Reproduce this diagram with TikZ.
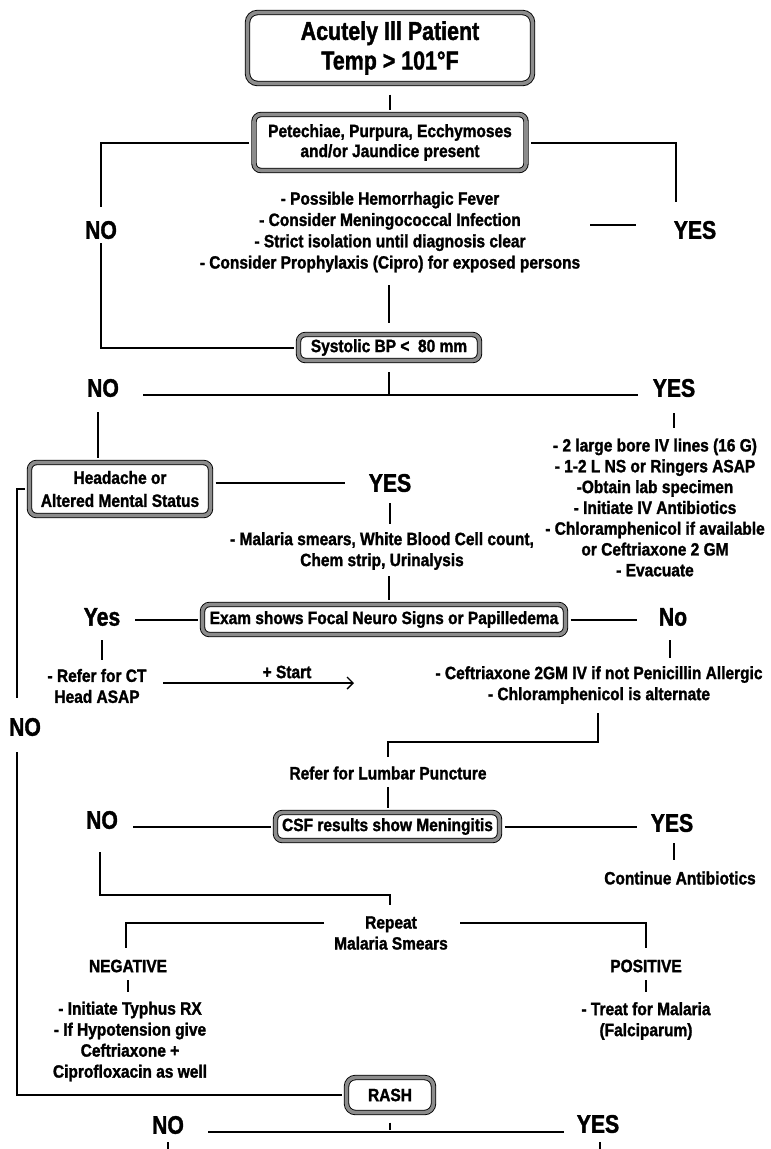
\documentclass[tikz,border=0pt]{standalone}
\usepackage{fontspec}
\setmainfont{Liberation Sans}
\newfontfamily\bodyf[FakeStretch=0.87, FakeBold=1.5]{Liberation Sans}
\newfontfamily\bigf[FakeStretch=0.83, FakeBold=1.5]{Liberation Sans}
\usetikzlibrary{arrows.meta}
\tikzset{
  conn/.style={line width=2pt, draw=black},
  body/.style={font=\bodyf\bfseries\fontsize{17.8}{21}\selectfont, align=center, inner sep=0pt},
  lbl/.style={font=\bigf\bfseries\fontsize{25.5}{25.5}\selectfont, inner sep=0pt},
  box/.style={draw=black, line width=0.9pt, double=black!45, double distance=3.6pt,
    rounded corners=7pt, fill=white, inner sep=0pt, outer sep=5pt, align=center,
    font=\bodyf\bfseries\fontsize{17.8}{21}\selectfont},
}
\begin{document}
\begin{tikzpicture}[x=1pt,y=-1pt]
\fill[white] (0,0) rectangle (771,1149);
\useasboundingbox (0,0) rectangle (771,1149);

% boxes
\node[box, rounded corners=10pt, minimum width=285pt, minimum height=71pt,
  font=\bigf\bfseries\fontsize{25.8}{29.5}\selectfont] (b1) at (390,48) {Acutely Ill Patient\\Temp > 101°F};
\node[box, minimum width=272pt, minimum height=56pt,
  font=\bodyf\bfseries\fontsize{17.8}{20}\selectfont] (b2) at (390,142.5) {Petechiae, Purpura, Ecchymoses\\and/or Jaundice present};
\node[box, minimum width=181pt, minimum height=26pt] (b3) at (389,347.5) {Systolic BP <\ \ 80 mm};
\node[box, minimum width=181pt, minimum height=53pt,
  font=\bodyf\bfseries\fontsize{17.8}{23}\selectfont] (b4) at (120,489) {Headache or\\Altered Mental Status};
\node[box, minimum width=363pt, minimum height=30pt] (b5) at (384,619.5) {Exam shows Focal Neuro Signs or Papilledema};
\node[box, minimum width=224pt, minimum height=28pt] (b6) at (387.5,826.5) {CSF results show Meningitis};
\node[box, rounded corners=9pt, minimum width=87pt, minimum height=35pt] (b7) at (390,1095) {RASH};

% big labels
\node[lbl] (no1) at (101,230) {NO};
\node[lbl] (yes1) at (695,230) {YES};
\node[lbl] (no2) at (103,388) {NO};
\node[lbl] (yes2) at (674,388) {YES};
\node[lbl] (yes3) at (390,483) {YES};
\node[lbl] (yes4) at (102,617) {Yes};
\node[lbl] (no4) at (673,617) {No};
\node[lbl] (no5) at (25,727) {NO};
\node[lbl] (no6) at (102,820) {NO};
\node[lbl] (yes6) at (672,823) {YES};
\node[lbl] (no7) at (168,1125) {NO};
\node[lbl] (yes7) at (598,1124) {YES};

% text blocks
\node[body, font=\bodyf\bfseries\fontsize{17.8}{21.3}\selectfont] (t1) at (390,232)
  {- Possible Hemorrhagic Fever\\- Consider Meningococcal Infection\\- Strict isolation until diagnosis clear\\- Consider Prophylaxis (Cipro) for exposed persons};
\node[body, font=\bodyf\bfseries\fontsize{17.8}{20.8}\selectfont] (t2) at (655,507.5)
  {- 2 large bore IV lines (16 G)\\- 1-2 L NS or Ringers ASAP\\-Obtain lab specimen\\- Initiate IV Antibiotics\\- Chloramphenicol if available\\or Ceftriaxone 2 GM\\- Evacuate};
\node[body] (t3) at (382,551) {- Malaria smears, White Blood Cell count,\\Chem strip, Urinalysis};
\node[body] (t4) at (97,686) {- Refer for CT\\Head ASAP};
\node[body] (t5) at (599,685) {- Ceftriaxone 2GM IV if not Penicillin Allergic\\- Chloramphenicol is alternate};
\node[body] (t6) at (388,773) {Refer for Lumbar Puncture};
\node[body] (t7) at (680,878) {Continue Antibiotics};
\node[body] (t8) at (391,933) {Repeat\\Malaria Smears};
\node[body] (t9) at (128,966) {NEGATIVE};
\node[body] (t10) at (646,966) {POSITIVE};
\node[body] (t11) at (130,1041.5) {- Initiate Typhus RX\\- If Hypotension give\\Ceftriaxone +\\Ciprofloxacin as well};
\node[body] (t12) at (646,1021) {- Treat for Malaria\\(Falciparum)};
\node[body] (st) at (287,672) {+ Start};

% free-end coordinates
\coordinate (c1) at (101,207);
\coordinate (c2) at (101,243);
\coordinate (c3) at (676,202);
\coordinate (c4a) at (590,225); \coordinate (c4b) at (636,225);
\coordinate (c5) at (389,285);
\coordinate (c6a) at (389,372); \coordinate (c6b) at (389,395);
\coordinate (c7a) at (143,395); \coordinate (c7b) at (638,395);
\coordinate (c8) at (98,412);
\coordinate (c9a) at (674,413); \coordinate (c9b) at (674,428);
\coordinate (c10) at (345,483);
\coordinate (c11a) at (390,503); \coordinate (c11b) at (390,524);
\coordinate (c12) at (389,576);
\coordinate (c13) at (135,619.5);
\coordinate (c14) at (637,619.5);
\coordinate (c15a) at (102,640); \coordinate (c15b) at (102,660);
\coordinate (c16a) at (670,640); \coordinate (c16b) at (670,658);
\coordinate (c17a) at (163,683); \coordinate (c17b) at (354,683);
\coordinate (c18a) at (598,713); \coordinate (c18b) at (388,742); \coordinate (c18c) at (388,757);
\coordinate (c19) at (388,787);
\coordinate (c20) at (133,826.5);
\coordinate (c21) at (637,826.5);
\coordinate (c22a) at (674,843); \coordinate (c22b) at (674,860);
\coordinate (c23a) at (100,852); \coordinate (c23b) at (390,895); \coordinate (c23c) at (390,905);
\coordinate (c24a) at (324,923); \coordinate (c24b) at (126,948);
\coordinate (c25a) at (460,923); \coordinate (c25b) at (646,948);
\coordinate (c26a) at (128,980); \coordinate (c26b) at (128,992);
\coordinate (c27a) at (646,980); \coordinate (c27b) at (646,992);
\coordinate (c28) at (17,698);
\coordinate (c29) at (17,752);
\coordinate (c30) at (390,1130);
\coordinate (c31a) at (208,1132); \coordinate (c31b) at (564,1132);
\coordinate (c32a) at (168,1142); \coordinate (c32b) at (168,1150);
\coordinate (c33a) at (600,1142); \coordinate (c33b) at (600,1150);

% connectors
\draw[conn] ([yshift=-6pt]b1.south) -- (b2.north);
\draw[conn] (b2.west) -| (c1);
\draw[conn] (c2) |- (b3.west);
\draw[conn] (b2.east) -| (c3);
\draw[conn] (c4a) -- (c4b);
\draw[conn] (c5) -- ([yshift=7pt]b3.north);
\draw[conn] (c6a) -- (c6b);
\draw[conn] (c7a) -- (c7b);
\draw[conn] (c8) -- (c8 |- b4.north);
\draw[conn] (c9a) -- (c9b);
\draw[conn] ([yshift=6pt]b4.east) -- (c10);
\draw[conn] (c11a) -- (c11b);
\draw[conn] (c12) -- (c12 |- b5.north);
\draw[conn] (c13) -- (b5.west);
\draw[conn] (b5.east) -- (c14);
\draw[conn] (c15a) -- (c15b);
\draw[conn] (c16a) -- (c16b);
\draw[line width=1.6pt, -{Straight Barb[length=6pt,width=12pt,line width=1.4pt]}] (c17a) -- (c17b);
\draw[conn] (c18a) |- (c18b) -- (c18c);
\draw[conn] (c19) -- (c19 |- b6.north);
\draw[conn] (c20) -- (b6.west);
\draw[conn] (b6.east) -- (c21);
\draw[conn] (c22a) -- (c22b);
\draw[conn] (c23a) |- (c23b) -- (c23c);
\draw[conn] (c24a) -| (c24b);
\draw[conn] (c25a) -| (c25b);
\draw[conn] (c26a) -- (c26b);
\draw[conn] (c27a) -- (c27b);
\draw[conn] (b4.west) -| (c28);
\draw[conn] (c29) |- (b7.west);
\draw[conn] ([yshift=-5pt]b7.south) -- (c30);
\draw[conn] (c31a) -- (c31b);
\draw[conn] (c32a) -- (c32b);
\draw[conn] (c33a) -- (c33b);
\end{tikzpicture}
\end{document}
